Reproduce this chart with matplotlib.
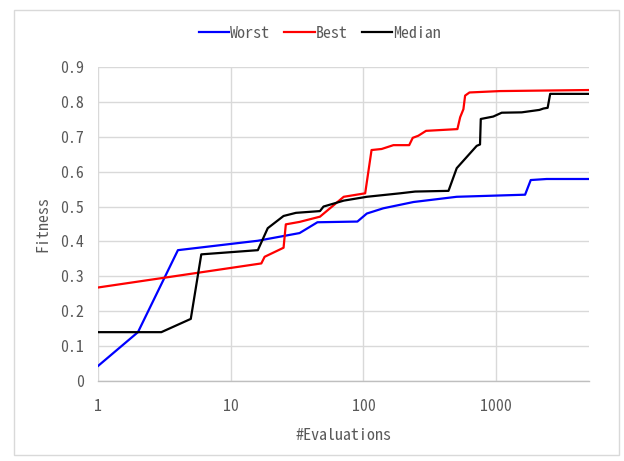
import matplotlib.pyplot as plt
from matplotlib.patches import Rectangle

plt.rcParams['font.family'] = ['Noto Sans Mono CJK JP', 'DejaVu Sans Mono']

# values (x = evaluations, y = fitness)
worst_x = [1, 2, 4, 16, 33, 45, 90, 106, 141, 238, 504, 1650, 1820, 2400, 5000]
worst_y = [0.043, 0.14, 0.375, 0.402, 0.424, 0.455, 0.457, 0.48, 0.495, 0.513,
           0.528, 0.534, 0.576, 0.579, 0.579]

best_x = [1, 17, 18, 25, 26, 33, 47, 71, 103, 115, 137, 168, 221, 235, 259,
          296, 510, 535, 566, 583, 629, 1070, 5000]
best_y = [0.268, 0.337, 0.356, 0.382, 0.449, 0.456, 0.471, 0.528, 0.538, 0.662,
          0.665, 0.676, 0.676, 0.697, 0.703, 0.717, 0.722, 0.756, 0.779, 0.818,
          0.827, 0.831, 0.834]

median_x = [1, 3, 5, 6, 16, 19, 25, 31, 47, 50, 71, 106, 189, 245, 437, 504,
            713, 755, 765, 950, 1100, 1555, 2115, 2270, 2440, 2550, 5000]
median_y = [0.14, 0.14, 0.178, 0.363, 0.375, 0.438, 0.473, 0.482, 0.487, 0.5,
            0.517, 0.528, 0.538, 0.543, 0.545, 0.61, 0.674, 0.678, 0.751, 0.758,
            0.769, 0.77, 0.777, 0.781, 0.783, 0.823, 0.823]

y_ticks = [0, 0.1, 0.2, 0.3, 0.4, 0.5, 0.6, 0.7, 0.8, 0.9]
y_labels = ['0', '0.1', '0.2', '0.3', '0.4', '0.5', '0.6', '0.7', '0.8', '0.9']
x_ticks = [1, 10, 100, 1000]
x_labels = ['1', '10', '100', '1000']

txt = '#595959'
fs = 11.5

fig = plt.figure(figsize=(6.24, 4.61), dpi=100)
fig.patches.append(Rectangle((14 / 624, 6 / 461), 605 / 624, 445 / 461,
                             transform=fig.transFigure, fill=False,
                             edgecolor='#d9d9d9', linewidth=1))
ax = fig.add_axes([98 / 624, 80 / 461, 491 / 624, 314 / 461])

ax.plot(worst_x, worst_y, color='#0000ff', lw=1.6, label='Worst')
ax.plot(best_x, best_y, color='#ff0000', lw=1.6, label='Best')
ax.plot(median_x, median_y, color='black', lw=1.6, label='Median')

ax.set_xscale('log')
ax.set_xlim(1, 5000)
ax.set_ylim(0, 0.9)
ax.set_xticks(x_ticks)
ax.set_xticklabels(x_labels)
ax.minorticks_off()
ax.set_yticks(y_ticks)
ax.set_yticklabels(y_labels)
ax.tick_params(length=0, labelsize=fs, colors=txt)
ax.tick_params(axis='x', pad=13)
ax.tick_params(axis='y', pad=10)

ax.grid(True, color='#d9d9d9', lw=1)
ax.set_axisbelow(True)
for s in ['top', 'right', 'left']:
    ax.spines[s].set_visible(False)
ax.spines['bottom'].set_color('#bfbfbf')
ax.spines['bottom'].set_linewidth(1)

ax.set_xlabel('#Evaluations', fontsize=fs, color=txt, labelpad=10)
ax.set_ylabel('Fitness', fontsize=fs, color=txt, labelpad=7)

fig.legend(loc='center', bbox_to_anchor=(0.512, 0.928), ncol=3, frameon=False,
           fontsize=fs, labelcolor=txt, handlelength=1.9, handletextpad=0.05,
           columnspacing=0.9)

fig.savefig('out.png', dpi=100)
